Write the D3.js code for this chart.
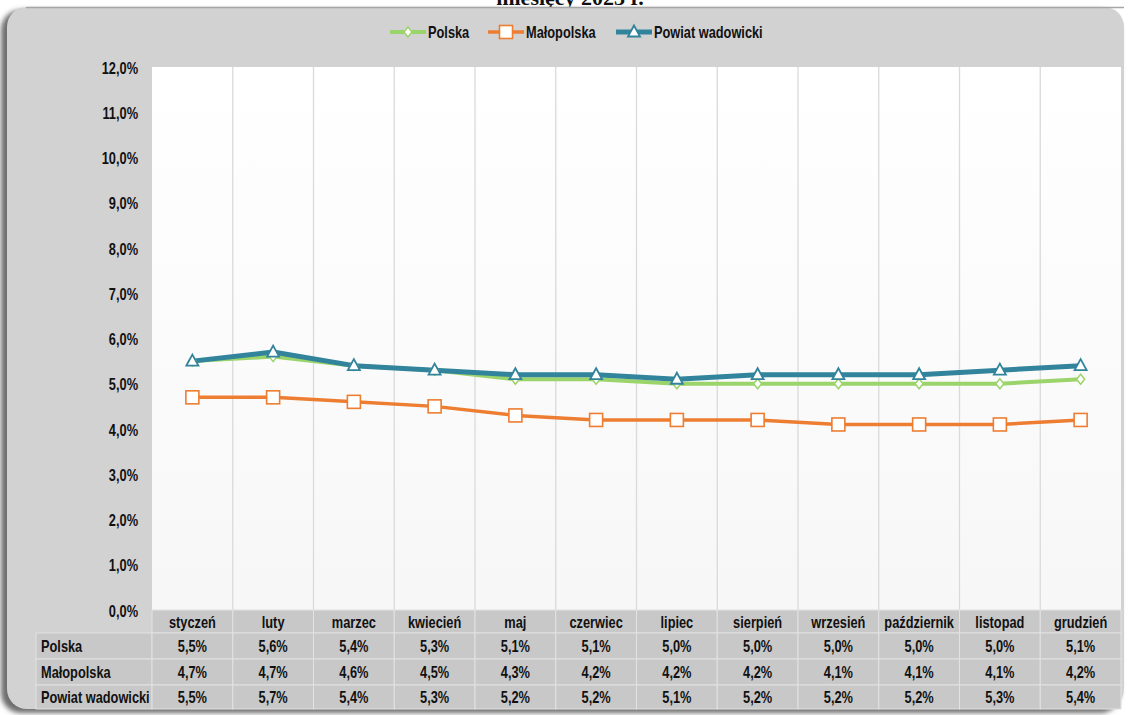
<!DOCTYPE html>
<html><head><meta charset="utf-8">
<script src="https://cdn.jsdelivr.net/npm/d3@7"></script>
<style>
html,body{margin:0;padding:0;background:#fff;}
svg text{font-family:"Liberation Sans Narrow","Arial Narrow","Liberation Sans",sans-serif;}
</style></head>
<body>
<svg id="c" width="1128" height="715"></svg>
<script>
const months = ["styczeń","luty","marzec","kwiecień","maj","czerwiec","lipiec","sierpień","wrzesień","październik","listopad","grudzień"];
const polska = [5.5,5.6,5.4,5.3,5.1,5.1,5.0,5.0,5.0,5.0,5.0,5.1];
const malopolska = [4.7,4.7,4.6,4.5,4.3,4.2,4.2,4.2,4.1,4.1,4.1,4.2];
const powiat = [5.5,5.7,5.4,5.3,5.2,5.2,5.1,5.2,5.2,5.2,5.3,5.4];
const yTicks = [0,1,2,3,4,5,6,7,8,9,10,11,12];
const seriesNames = ["Polska","Małopolska","Powiat wadowicki"];
const seriesColors = ["#9bd46a","#ed7d31","#31849b"];
const titleText = "miesięcy 2023 r.";

const series = [
  {name:seriesNames[0], values:polska, color:seriesColors[0], marker:"diamond", width:4},
  {name:seriesNames[1], values:malopolska, color:seriesColors[1], marker:"square", width:3.5},
  {name:seriesNames[2], values:powiat, color:seriesColors[2], marker:"triangle", width:5}
];
const SX = 0.8; // horizontal condensation to imitate a narrow font
const FS = 16;
const fmt = d=>d3.format(".1f")(d).replace(".",",")+"%";

const svg = d3.select("#c");
function ntext(g, tx, ty, anchor, str){
  return g.append("g").attr("transform",`translate(${tx},${ty}) scale(${SX},1)`)
    .append("text").attr("x",0).attr("y",0).attr("text-anchor",anchor)
    .attr("fill","#111").style("font-size",FS+"px").style("font-weight","bold").text(str);
}
const defs = svg.append("defs");
const sh = defs.append("filter").attr("id","sh").attr("x","-5%").attr("y","-5%").attr("width","110%").attr("height","110%");
sh.append("feGaussianBlur").attr("stdDeviation",2.5);
const pg = defs.append("linearGradient").attr("id","pg").attr("x1",0).attr("y1",0).attr("x2",0).attr("y2",1);
pg.append("stop").attr("offset","0%").attr("stop-color","#ffffff");
pg.append("stop").attr("offset","100%").attr("stop-color","#f7f7f7");

// title (clipped at top, as in the reference)
svg.append("text").attr("x",570).attr("y",5).attr("text-anchor","middle")
  .style("font-family","'Liberation Serif','DejaVu Serif',serif").style("font-size","22px").style("font-weight","bold")
  .attr("fill","#111").text(titleText);

// panel shadow + panel
svg.append("rect").attr("x",1).attr("y",10).attr("width",1119).attr("height",703).attr("rx",20)
  .attr("fill","#6e6e6e").attr("filter","url(#sh)");
svg.append("rect").attr("x",7).attr("y",7).attr("width",1117).attr("height",702).attr("rx",20)
  .attr("fill","#d2d2d2");
svg.append("line").attr("x1",26).attr("x2",1124).attr("y1",7.5).attr("y2",7.5).attr("stroke","#a6a6a6").attr("stroke-width",1.5);

const L = 152, R = 1121, T = 67, B = 610;
const x = d3.scaleBand().domain(months).range([L,R]);
const y = d3.scaleLinear().domain([0,12]).range([B,T]);

svg.append("rect").attr("x",L).attr("y",T).attr("width",R-L).attr("height",B-T).attr("fill","url(#pg)");

// vertical gridlines
svg.append("g").selectAll("line").data(months.slice(1)).join("line")
  .attr("x1",d=>x(d)).attr("x2",d=>x(d)).attr("y1",T).attr("y2",B)
  .attr("stroke","#dadada").attr("stroke-width",1.3);

// y axis labels (axis used for positions, text condensed)
const yAxis = d3.axisLeft(y).tickValues(yTicks).tickSize(0).tickPadding(14).tickFormat(fmt);
const ya = svg.append("g").attr("transform",`translate(${L},0)`).call(yAxis);
ya.select(".domain").remove();
ya.selectAll(".tick").each(function(d){
  const t = d3.select(this);
  t.select("text").remove();
  t.append("g").attr("transform",`translate(-14,6) scale(${SX},1)`)
    .append("text").attr("text-anchor","end").attr("fill","#111")
    .style("font-size",FS+"px").style("font-weight","bold").text(fmt(d));
});

// table
const rowH = [610,633,659,685,709];
const tbl = svg.append("g");
tbl.selectAll("rect.cat").data(months).join("rect").attr("class","cat")
  .attr("x",d=>x(d)).attr("y",rowH[0]).attr("width",x.bandwidth()).attr("height",rowH[1]-rowH[0])
  .attr("fill","#c8c8c8").attr("stroke","#e2e2e2").attr("stroke-width",1);
months.forEach(m=>ntext(tbl, x(m)+x.bandwidth()/2, (rowH[0]+rowH[1])/2+6, "middle", m));
series.forEach((s,i)=>{
  const y0 = rowH[i+1], y1 = rowH[i+2];
  tbl.append("rect").attr("x",36).attr("y",y0).attr("width",L-36).attr("height",y1-y0)
    .attr("fill","#c8c8c8").attr("stroke","#e2e2e2").attr("stroke-width",1);
  ntext(tbl, 41, (y0+y1)/2+6, "start", s.name);
  tbl.selectAll(null).data(months).join("rect")
    .attr("x",d=>x(d)).attr("y",y0).attr("width",x.bandwidth()).attr("height",y1-y0)
    .attr("fill","#c8c8c8").attr("stroke","#e2e2e2").attr("stroke-width",1);
  s.values.forEach((v,j)=>ntext(tbl, x(months[j])+x.bandwidth()/2, (y0+y1)/2+6, "middle", fmt(v)));
});

// markers
function drawMarker(g, type, cx, cy, color){
  if(type==="diamond"){
    g.append("path").attr("d",`M${cx},${cy-5}L${cx+4},${cy}L${cx},${cy+5}L${cx-4},${cy}Z`)
      .attr("fill","#fff").attr("stroke",color).attr("stroke-width",1.5);
  } else if(type==="square"){
    g.append("rect").attr("x",cx-6.5).attr("y",cy-6.5).attr("width",13).attr("height",13)
      .attr("fill","#fff").attr("stroke",color).attr("stroke-width",1.6);
  } else {
    g.append("path").attr("d",`M${cx},${cy-6.5}L${cx+6},${cy+4.5}L${cx-6},${cy+4.5}Z`)
      .attr("fill","#fff").attr("stroke",color).attr("stroke-width",1.8);
  }
}

const line = d3.line().x((d,j)=>x(months[j])+x.bandwidth()/2).y(d=>y(d));
const lines = svg.append("g");
series.forEach(s=>{
  lines.append("path").datum(s.values).attr("d",line).attr("fill","none")
    .attr("stroke",s.color).attr("stroke-width",s.width).attr("stroke-linejoin","round");
});
series.forEach(s=>{
  const g = lines.append("g");
  s.values.forEach((v,j)=>drawMarker(g,s.marker,x(months[j])+x.bandwidth()/2,y(v),s.color));
});

// legend
const legX = [390,488,616];
const leg = svg.append("g");
series.forEach((s,i)=>{
  const lx = legX[i], ly = 32;
  leg.append("line").attr("x1",lx).attr("x2",lx+36).attr("y1",ly).attr("y2",ly)
    .attr("stroke",s.color).attr("stroke-width",s.width);
  drawMarker(leg,s.marker,lx+18,ly,s.color);
  ntext(leg, lx+38, ly+6, "start", s.name);
});
</script>
</body></html>
